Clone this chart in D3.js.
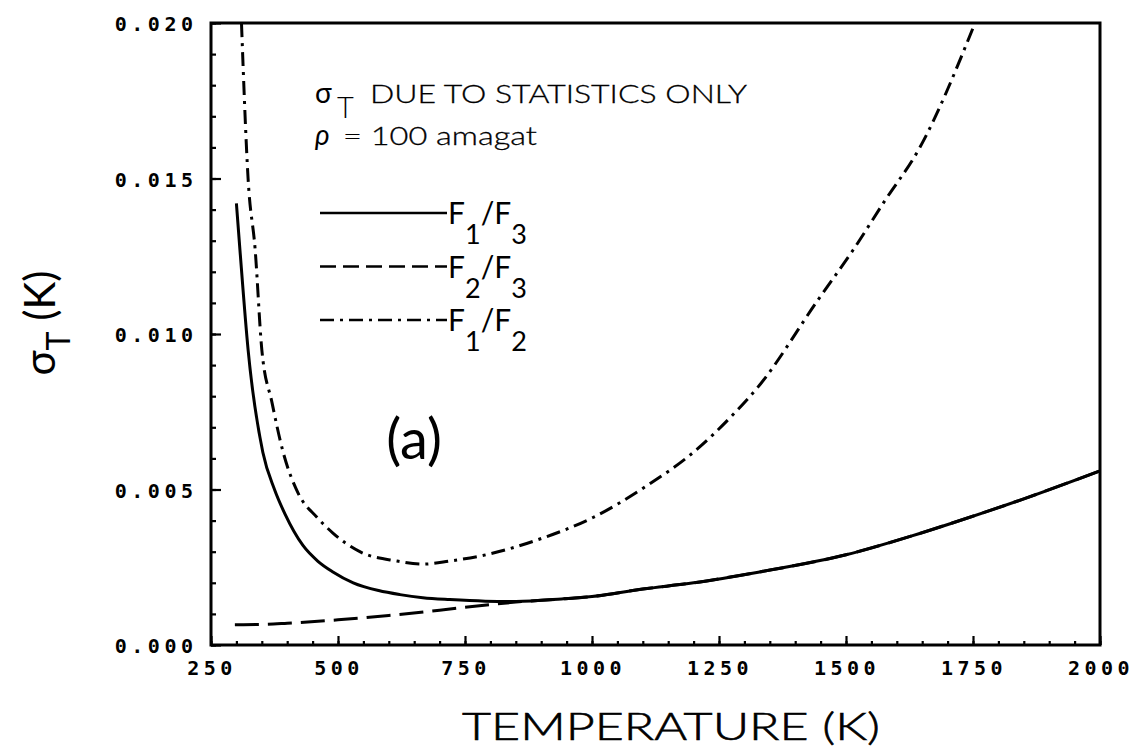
<!DOCTYPE html>
<html>
<head>
<meta charset="utf-8">
<script src="https://cdn.jsdelivr.net/npm/d3@7"></script>
<style>
  body { margin: 0; background: #fff; }
  text { fill: #000; }
</style>
</head>
<body>
<div id="chart"></div>
<script>
// F1/F3 (solid line)
const f13Temp  = [300, 307, 323, 352, 375, 396, 431, 460, 490, 530, 580, 622, 667, 720, 790, 850, 940, 1000, 1100, 1200, 1330, 1500, 1628, 1705, 1850, 2000];
const f13Sigma = [0.0142, 0.0127, 0.0095, 0.0062, 0.0050, 0.0042, 0.0032, 0.0027, 0.00235, 0.0020, 0.00175, 0.00162, 0.00152, 0.00146, 0.00141, 0.00140, 0.00148, 0.00156, 0.0018, 0.0020, 0.00235, 0.0029, 0.0035, 0.0039, 0.0047, 0.0056];

// F2/F3 (dashed line)
const f23Temp  = [297, 350, 400, 500, 600, 700, 800, 850, 940, 1000, 1100, 1200, 1330, 1500, 1628, 1705, 1850, 2000];
const f23Sigma = [0.00065, 0.00066, 0.00070, 0.00081, 0.00095, 0.00112, 0.00130, 0.00138, 0.00148, 0.00156, 0.0018, 0.0020, 0.00235, 0.0029, 0.0035, 0.0039, 0.0047, 0.0056];

// F1/F2 (dash-dot line)
const f12Temp  = [310, 323, 337, 350, 370, 392, 421, 459, 490, 543, 616, 667, 720, 791, 896, 1002, 1106, 1200, 1283, 1327, 1445, 1514, 1577, 1642, 1754];
const f12Sigma = [0.0200, 0.0150, 0.0127, 0.0095, 0.0078, 0.0062, 0.0049, 0.0041, 0.0036, 0.0030, 0.0027, 0.0026, 0.0027, 0.0029, 0.0034, 0.0041, 0.0051, 0.0062, 0.0075, 0.0083, 0.0111, 0.0127, 0.0143, 0.0159, 0.0200];

const xTicks = [250, 500, 750, 1000, 1250, 1500, 1750, 2000];
const yTicks = [0.000, 0.005, 0.010, 0.015, 0.020];

const legendNames = [["1", "3"], ["2", "3"], ["1", "2"]];
const legendDash = ["none", "16,7", "14,6,3,6"];
const plotDash = ["none", "24,9", "14,6,3,6"];

const margin = {top: 23, right: 36, bottom: 110, left: 211},
    width = 1136 - margin.left - margin.right,
    height = 755 - margin.top - margin.bottom;

const svg = d3.select("#chart")
    .append("svg")
    .attr("width", 1136)
    .attr("height", 755)
    .append("g")
    .attr("transform", `translate(${margin.left}, ${margin.top})`);

const x = d3.scaleLinear().domain([250, 2000]).range([0, width]);
const y = d3.scaleLinear().domain([0, 0.02]).range([height, 0]);

svg.append("clipPath").attr("id", "clip")
    .append("rect").attr("width", width).attr("height", height);

// minor + major ticks, pointing inward
const xAxis = svg.append("g").attr("transform", `translate(0, ${height})`);
xAxis.call(d3.axisTop(x).tickValues(d3.range(250, 2001, 50)).tickSize(4).tickFormat(""));
xAxis.call(g => g.append("g").call(d3.axisTop(x).tickValues(xTicks).tickSize(9).tickFormat("")));
xAxis.selectAll("line").attr("stroke-width", 2.2);
xAxis.selectAll(".domain").remove();

const yAxis = svg.append("g");
yAxis.call(d3.axisRight(y).tickValues(d3.range(0, 0.02001, 0.001)).tickSize(5).tickFormat(""));
yAxis.call(g => g.append("g").call(d3.axisRight(y).tickValues(yTicks).tickSize(10).tickFormat("")));
yAxis.selectAll("line").attr("stroke-width", 2.2);
yAxis.selectAll(".domain").remove();

// tick labels
const tickFont = "bold 20px 'DejaVu Sans Mono'";
svg.selectAll(".xlab").data(xTicks).enter().append("text")
    .attr("x", d => x(d) + 1)
    .attr("y", height + 30)
    .attr("text-anchor", "middle")
    .style("font", tickFont)
    .style("letter-spacing", "4.5px")
    .text(d => d);

svg.selectAll(".ylab").data(yTicks).enter().append("text")
    .attr("x", -13.5)
    .attr("y", d => y(d) + 8)
    .attr("text-anchor", "end")
    .style("font", tickFont)
    .style("letter-spacing", "4.5px")
    .text(d => d3.format(".3f")(d));

// frame
svg.append("rect")
    .attr("width", width).attr("height", height)
    .attr("fill", "none").attr("stroke", "#000").attr("stroke-width", 3);

// curves
const line = d3.line().x(d => x(d[0])).y(d => y(d[1])).curve(d3.curveMonotoneX);
const series = [
    {t: f13Temp, v: f13Sigma, dash: plotDash[0]},
    {t: f23Temp, v: f23Sigma, dash: plotDash[1]},
    {t: f12Temp, v: f12Sigma, dash: plotDash[2]}
];
series.forEach(s => {
    svg.append("path")
        .datum(s.t.map((t, i) => [t, s.v[i]]))
        .attr("clip-path", "url(#clip)")
        .attr("fill", "none")
        .attr("stroke", "#000")
        .attr("stroke-width", 3)
        .attr("stroke-dasharray", s.dash)
        .attr("d", line);
});

// annotation
const font = "Lato, 'Open Sans', sans-serif";
svg.append("text").attr("x", 104).attr("y", 80)
    .style("font-family", font).style("font-size", "28px").text("σ");
svg.append("text").attr("x", 126).attr("y", 95)
    .style("font-family", font).style("font-size", "29px").style("font-weight", 300).text("T");
svg.append("text").attr("x", 159).attr("y", 80)
    .attr("textLength", 377).attr("lengthAdjust", "spacingAndGlyphs")
    .style("font-family", font).style("font-size", "25px").style("font-weight", 300)
    .style("stroke", "#000").style("stroke-width", 0.3)
    .text("DUE TO STATISTICS ONLY");

svg.append("text").attr("x", 104).attr("y", 122)
    .style("font-family", font).style("font-size", "28px").style("font-style", "italic")
    .text("ρ");
svg.append("text").attr("x", 132).attr("y", 122)
    .attr("textLength", 194).attr("lengthAdjust", "spacingAndGlyphs")
    .style("font-family", font).style("font-size", "25px").style("font-weight", 300)
    .style("stroke", "#000").style("stroke-width", 0.3)
    .text("= 100 amagat");

// legend
legendNames.forEach((n, i) => {
    const ly = 190 + i * 53.5;
    svg.append("line")
        .attr("x1", 109).attr("x2", 236)
        .attr("y1", ly).attr("y2", ly)
        .attr("stroke", "#000").attr("stroke-width", 2.5)
        .attr("stroke-dasharray", legendDash[i]);
    const t = svg.append("text").attr("x", 237).attr("y", ly + 11)
        .style("font-family", font).style("font-size", "30px");
    t.append("tspan").text("F");
    t.append("tspan").attr("dy", 20).style("font-size", "27px").text(n[0]);
    t.append("tspan").attr("dy", -20).text("/F");
    t.append("tspan").attr("dy", 20).style("font-size", "27px").text(n[1]);
});

svg.append("text")
    .attr("x", 203).attr("y", 436)
    .attr("text-anchor", "middle")
    .style("font-family", font).style("font-size", "56px")
    .text("(a)");

// axis titles
svg.append("text")
    .attr("x", 460 - 209).attr("y", height + 95)
    .attr("textLength", 418).attr("lengthAdjust", "spacingAndGlyphs")
    .style("font-family", font).style("font-size", "37px").style("font-weight", 300)
    .style("stroke", "#000").style("stroke-width", 0.6)
    .text("TEMPERATURE (K)");

const yt = svg.append("text")
    .attr("transform", `translate(${55 - margin.left}, ${323 - margin.top}) rotate(-90)`)
    .attr("text-anchor", "middle")
    .style("font-family", font).style("font-size", "42px");
yt.append("tspan").text("σ");
yt.append("tspan").attr("dy", 15).style("font-size", "32px").text("T");
yt.append("tspan").attr("dy", -15).text(" (K)");
</script>
</body>
</html>
